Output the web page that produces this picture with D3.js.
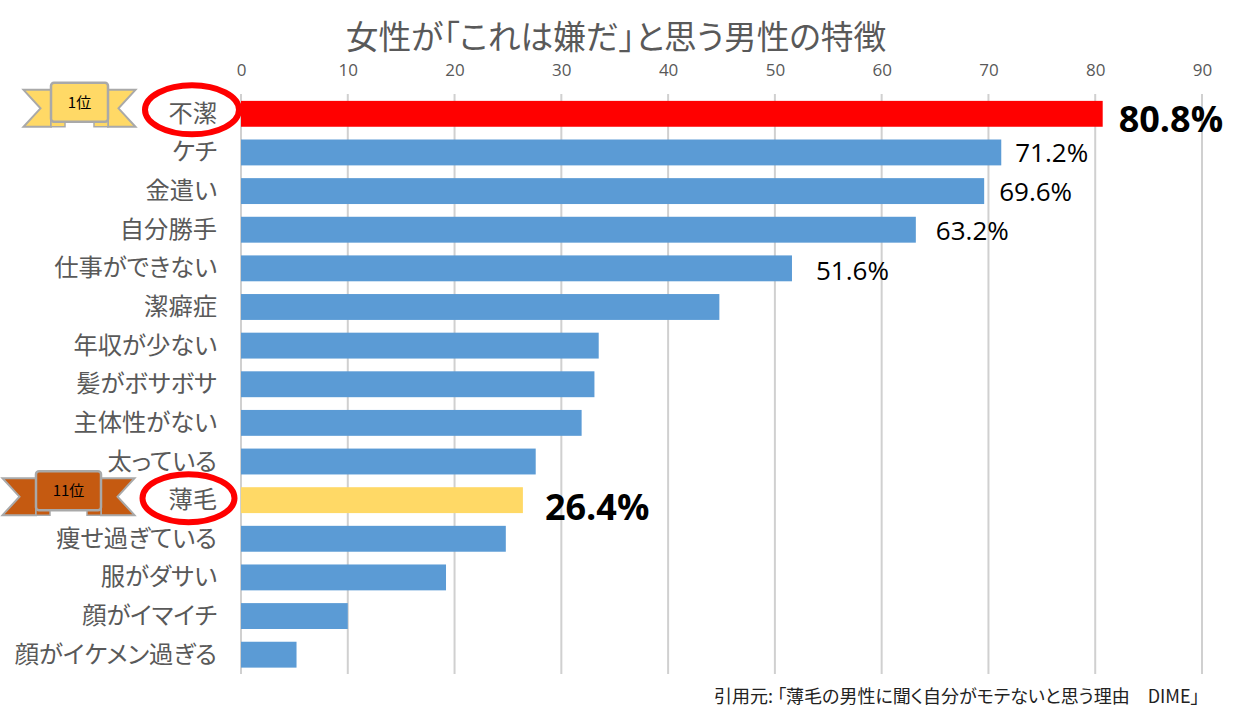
<!DOCTYPE html>
<html><head><meta charset="utf-8">
<script src="https://cdn.jsdelivr.net/npm/d3@7"></script>
<style>html,body{margin:0;padding:0;background:#fff;overflow:hidden}svg{display:block}
text{font-family:"Noto Sans CJK JP","Noto Sans",sans-serif}
.lat{font-family:"Open Sans","Noto Sans",sans-serif}
.palt{font-feature-settings:"palt"}</style></head><body>
<svg id="c" width="1259" height="721"></svg>
<script>
const categories=["不潔","ケチ","金遣い","自分勝手","仕事ができない","潔癖症","年収が少ない","髪がボサボサ","主体性がない","太っている","薄毛","痩せ過ぎている","服がダサい","顔がイマイチ","顔がイケメン過ぎる"];
const values=[80.7,71.2,69.6,63.2,51.6,44.8,33.5,33.1,31.9,27.6,26.4,24.8,19.2,10,5.2];
const barColors=["#ff0000","#5b9bd5","#5b9bd5","#5b9bd5","#5b9bd5","#5b9bd5","#5b9bd5","#5b9bd5","#5b9bd5","#5b9bd5","#ffd966","#5b9bd5","#5b9bd5","#5b9bd5","#5b9bd5"];
const tickValues=[0,10,20,30,40,50,60,70,80,90];
const valueLabels=[
 {cat:"不潔",text:"80.8%",dx:16,size:36,weight:700,dy:6},
 {cat:"ケチ",text:"71.2%",dx:14,size:26,weight:400,dy:2},
 {cat:"金遣い",text:"69.6%",dx:15,size:26,weight:400,dy:2},
 {cat:"自分勝手",text:"63.2%",dx:20,size:26,weight:400,dy:2},
 {cat:"仕事ができない",text:"51.6%",dx:24,size:26,weight:400,dy:4},
 {cat:"薄毛",text:"26.4%",dx:22,size:36,weight:700,dy:8}];
const ribbons=[{cat:"不潔",label:"1位",fill:"#ffd966",cx:79.5,w:112,core:57,dy:-2},{cat:"薄毛",label:"11位",fill:"#c55a11",cx:68.5,w:132,core:65,dy:0}];
const circled=[{cat:"不潔",cx:192,rx:47,ry:24.5,dy:-4},{cat:"薄毛",cx:188.5,rx:46,ry:24,dy:-2}];
const titleText="女性が「これは嫌だ」と思う男性の特徴";
const sourceText="引用元: 「薄毛の男性に聞く自分がモテないと思う理由　DIME」";

const svg=d3.select("#c");
const x=d3.scaleLinear().domain([0,90]).range([241,1202]);
const y=d3.scaleBand().domain(categories).range([94.5,674]).paddingInner(0.33).paddingOuter(0.165);
const cy=c=>y(c)+y.bandwidth()/2;

svg.append("text").attr("class","palt").attr("x",616).attr("y",49).attr("text-anchor","middle").attr("font-size",32.7).attr("fill","#595959").text(titleText);

svg.append("g").selectAll("line").data(tickValues).join("line")
 .attr("x1",d=>x(d)).attr("x2",d=>x(d)).attr("y1",94).attr("y2",674)
 .attr("stroke","#d0d0d0").attr("stroke-width",2);

const axis=d3.axisTop(x).tickValues(tickValues).tickSize(0).tickPadding(0);
const ag=svg.append("g").attr("transform","translate(0,76)").call(axis);
ag.select(".domain").remove();
ag.selectAll("text").attr("class","lat").attr("font-size",17).attr("fill","#595959").attr("font-family",null);

svg.append("g").selectAll("rect").data(categories).join("rect")
 .attr("x",x(0)).attr("y",d=>y(d)).attr("width",(d,i)=>x(values[i])-x(0)).attr("height",y.bandwidth())
 .attr("fill",(d,i)=>barColors[i]);

svg.append("g").selectAll("text").data(categories).join("text")
 .attr("class","palt")
 .attr("x",217).attr("y",d=>cy(d)+8).attr("text-anchor","end").attr("font-size",24.3).attr("fill","#595959").text(d=>d);

svg.append("g").selectAll("text").data(valueLabels).join("text")
 .attr("class","lat")
 .attr("x",d=>x(values[categories.indexOf(d.cat)])+d.dx)
 .attr("y",d=>cy(d.cat)+d.dy+(d.size>30?12:8))
 .attr("font-size",d=>d.size).attr("font-weight",d=>d.weight).attr("fill","#000").text(d=>d.text);

svg.append("g").selectAll("ellipse").data(circled).join("ellipse")
 .attr("cx",d=>d.cx).attr("cy",d=>cy(d.cat)+d.dy).attr("rx",d=>d.rx).attr("ry",d=>d.ry)
 .attr("fill","none").attr("stroke","#ff0000").attr("stroke-width",6);

const rib=svg.append("g").selectAll("g").data(ribbons).join("g")
 .attr("transform",d=>`translate(${d.cx},${cy(d.cat)+d.dy})`);
rib.append("path").attr("d",d=>{const w=d.w/2,c=d.core/2;return `M${-w},-22H${-c}V15H${-w}L${-w+17},-3.5Z M${w},-22H${c}V15H${w}L${w-17},-3.5Z`;})
 .attr("fill",d=>d.fill).attr("stroke","#a9a9a9").attr("stroke-width",2);
rib.append("path").attr("d",d=>{const c=d.core/2;return `M${-c},9V15H${-c+14}V10Z M${c},9V15H${c-14}V10Z`;})
 .attr("fill",d=>d.fill).attr("stroke","#a9a9a9").attr("stroke-width",1.5);
rib.append("rect").attr("x",d=>-d.core/2).attr("y",-29).attr("width",d=>d.core).attr("height",39).attr("rx",3)
 .attr("fill",d=>d.fill).attr("stroke","#a9a9a9").attr("stroke-width",2.5);
rib.append("text").attr("y",-4).attr("text-anchor","middle").attr("font-size",15).attr("fill","#000").text(d=>d.label);

svg.append("text").attr("class","palt").attr("x",714).attr("y",703).attr("font-size",18).attr("fill","#222").text(sourceText);
</script></body></html>
